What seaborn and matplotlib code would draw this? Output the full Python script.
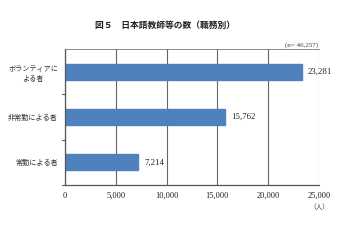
import matplotlib
matplotlib.use("Agg")
import matplotlib.pyplot as plt
import seaborn as sns
import pandas as pd

categories = ["ボランティアに\nよる者", "非常勤による者", "常勤による者"]
values = [23281, 15762, 7214]
value_labels = ["23,281", "15,762", "7,214"]
xticks = [0, 5000, 10000, 15000, 20000, 25000]
xtick_labels = ["0", "5,000", "10,000", "15,000", "20,000", "25,000"]
title = "図５　日本語教師等の数（職務別）"
note = "(n= 46,257)"
unit = "（人）"

sns.set_theme(style="white")
plt.rcParams['font.family'] = ['Noto Sans CJK JP', 'DejaVu Sans']

df = pd.DataFrame({"cat": categories, "val": values})

fig = plt.figure(figsize=(3.6, 2.4), dpi=100)
ax = fig.add_axes([65/360, 1-185/240, 254/360, 136/240])
sns.barplot(data=df, x="val", y="cat", orient="h", color="#4F81BD",
            saturation=1, width=0.36, ax=ax, edgecolor="#4F81BD")

ax.set_xlim(0, 25000)
ax.set_ylim(2.5, -0.5)
ax.set_xticks(xticks)
ax.set_xticklabels(xtick_labels, fontsize=6, color="#222222",
                   family=['Liberation Serif', 'DejaVu Serif'])
ax.set_yticks([0, 1, 2])
ax.set_yticklabels(categories, fontsize=5.1, color="#333333",
                   family=['Noto Sans CJK JP'], linespacing=1.4,
                   multialignment="center")
ax.tick_params(axis='y', length=0, pad=5)
ax.tick_params(axis='x', length=3, width=0.8, color="#555555", direction='out', pad=2)
ax.set_xlabel("")
ax.set_ylabel("")
ax.grid(axis='x', color="#666666", linewidth=0.8)
ax.set_axisbelow(True)
for s in ["left", "bottom"]:
    ax.spines[s].set_color("#555555")
    ax.spines[s].set_linewidth(0.9)
ax.spines["top"].set_color("#777777")
ax.spines["top"].set_linewidth(0.6)
ax.spines["right"].set_visible(False)

# category boundary ticks on the y axis
for yb in [0.5, 1.5, 2.5]:
    ax.plot([-0.012, 0], [yb, yb], transform=ax.get_yaxis_transform(),
            color="#555555", lw=0.8, clip_on=False)

for i, (v, lab) in enumerate(zip(values, value_labels)):
    ax.text(v + 600, i, lab, va="center", ha="left", fontsize=6.3,
            color="#222222", family=['Liberation Serif', 'DejaVu Serif'])

fig.text(165/360, 1-25/240, title, ha="center", va="center", fontsize=6.3,
         fontweight="bold", color="#222222")
ax.text(0.995, 1.01, note, transform=ax.transAxes, ha="right", va="bottom",
        fontsize=5, color="#444444", family=['Liberation Serif', 'DejaVu Serif'])
fig.text(319/360, 1-207/240, unit, ha="center", va="center", fontsize=4.8,
         color="#333333")

fig.savefig("out.png", dpi=100)
